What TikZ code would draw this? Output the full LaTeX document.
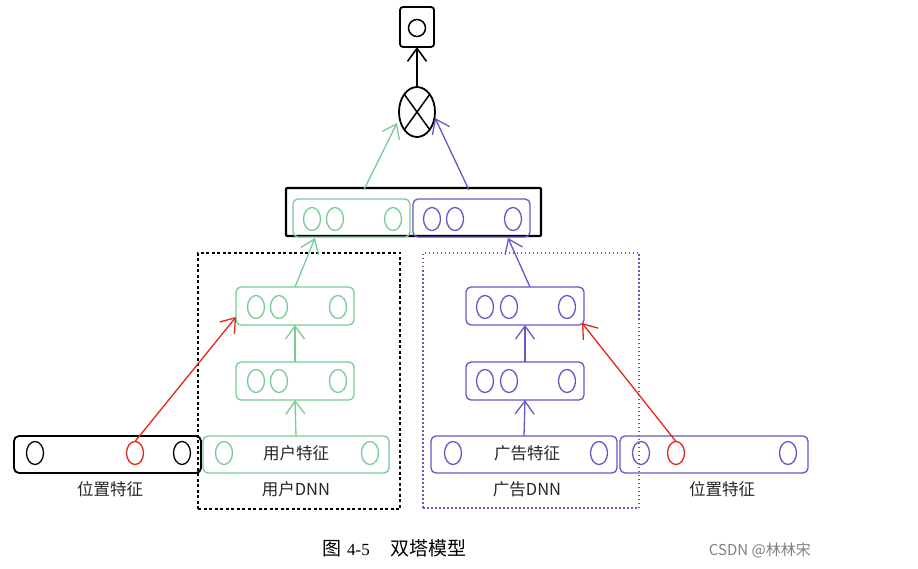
\documentclass[tikz,border=0pt]{standalone}
\usepackage{fontspec}
\setmainfont{Noto Sans CJK SC}
\newfontfamily\cjk{Noto Sans CJK SC}
\newfontfamily\serifl{Liberation Serif}
\usetikzlibrary{shapes.geometric,arrows.meta,calc}
\definecolor{tgreen}{RGB}{120,205,150}
\definecolor{tpurple}{RGB}{105,85,200}
\definecolor{tred}{RGB}{225,40,25}
\begin{document}
\begin{tikzpicture}[x=1pt,y=-1pt,
  box/.style={draw, rounded corners=5pt, inner sep=0pt, outer sep=0pt, line width=1.3pt},
  gbox/.style={box, tgreen},
  pbox/.style={box, tpurple},
  kbox/.style={box, black, line width=1.8pt},
  cell/.style={draw, ellipse, inner sep=0pt, outer sep=0pt, minimum width=17pt, minimum height=23pt, line width=1.3pt},
  gcell/.style={cell, tgreen},
  pcell/.style={cell, tpurple},
  kcell/.style={cell, black},
  rcell/.style={cell, tred},
  arr/.style={-{Straight Barb[length=13pt,width=19pt]}, line width=1.3pt},
  lbl/.style={font=\fontsize{16.5}{16.5}\selectfont, text=black!85, inner sep=0pt}
]
\fill[white] (0,0) rectangle (918,569);

% group frames
\node[draw, black, line width=1.6pt, dash pattern=on 3pt off 2.5pt, minimum width=202pt, minimum height=256pt, inner sep=0pt] (udnn) at (299,381) {};
\node[draw, tpurple, line width=1.3pt, dash pattern=on 1.5pt off 2.5pt, minimum width=216pt, minimum height=255pt, inner sep=0pt] (addnn) at (531,380.5) {};

% output
\node[kbox, rounded corners=3pt, minimum width=34pt, minimum height=40pt] (out) at (417,27) {};
\node[draw, circle, line width=1.5pt, minimum size=17pt, inner sep=0pt] (outc) at (417,28) {};
\node[draw, ellipse, line width=1.8pt, minimum width=36pt, minimum height=50pt, inner sep=0pt, outer sep=0pt] (cross) at (417,112) {};
\draw[line width=1.5pt] (cross.north west) -- (cross.south east);
\draw[line width=1.5pt] (cross.north east) -- (cross.south west);

% concat
\node[draw, black, line width=2.2pt, rounded corners=1pt, minimum width=255pt, minimum height=48pt, inner sep=0pt] (concat) at (413.5,212) {};
\node[gbox, minimum width=117pt, minimum height=38pt] (gC) at (351.5,218) {};
\node[pbox, minimum width=117pt, minimum height=38pt] (pC) at (471.5,218) {};
\node[gcell] (gc1) at (312,219) {};
\node[gcell] (gc2) at (335,219) {};
\node[gcell] (gc3) at (393,219) {};
\node[pcell] (pc1) at (432,219) {};
\node[pcell] (pc2) at (455,219) {};
\node[pcell] (pc3) at (513,219) {};

% user tower
\node[gbox, minimum width=118pt, minimum height=38pt] (g3) at (295,306) {};
\node[gcell] (g31) at (256,307) {};
\node[gcell] (g32) at (279,307) {};
\node[gcell] (g33) at (338,307) {};
\node[gbox, minimum width=118pt, minimum height=38pt] (g2) at (295,381) {};
\node[gcell] (g21) at (256,381) {};
\node[gcell] (g22) at (279,381) {};
\node[gcell] (g23) at (338,381) {};
\node[gbox, minimum width=186pt, minimum height=37pt] (gf) at (296,454.5) {};
\node[gcell] (gf1) at (224,453) {};
\node[gcell] (gf2) at (370,453) {};
\node[lbl] (gft) at (296,453) {用户特征};
\node[lbl] (udl) at (296,489) {用户DNN};

% ad tower
\node[pbox, minimum width=118pt, minimum height=38pt] (p3) at (525,306) {};
\node[pcell] (p31) at (485,307) {};
\node[pcell] (p32) at (509,307) {};
\node[pcell] (p33) at (567,307) {};
\node[pbox, minimum width=118pt, minimum height=38pt] (p2) at (525,381) {};
\node[pcell] (p21) at (485,381) {};
\node[pcell] (p22) at (509,381) {};
\node[pcell] (p23) at (567,381) {};
\node[pbox, minimum width=186pt, minimum height=37pt] (pf) at (524,454.5) {};
\node[pcell] (pf1) at (453,453) {};
\node[pcell] (pf2) at (599,453) {};
\node[lbl] (pft) at (527,453) {广告特征};
\node[lbl] (adl) at (527,489) {广告DNN};

% position features
\node[kbox, minimum width=187pt, minimum height=37pt] (lpos) at (107.5,454.5) {};
\node[kcell] (lp1) at (35,453) {};
\node[rcell] (lp2) at (135,453) {};
\node[kcell] (lp3) at (182,453) {};
\node[lbl] (lpl) at (110,489) {位置特征};

\node[pbox, minimum width=188pt, minimum height=37pt] (rpos) at (714,454.5) {};
\node[pcell] (rp1) at (641,453) {};
\node[rcell] (rp2) at (676,453) {};
\node[pcell] (rp3) at (788,453) {};
\node[lbl] (rpl) at (722,489) {位置特征};

% arrows
\draw[arr, black, line width=1.6pt] (cross.north) -- (out.south);
\draw[arr, tgreen] ($(concat.north west)+(79,3)$) -- ($(cross.center)+(-20,11)$);
\draw[arr, tpurple] ($(concat.north west)+(184,3)$) -- ($(cross.center)+(18,6)$);
\draw[arr, tgreen] (g3.north) -- ($(gC.south west)+(22,1)$);
\draw[arr, tpurple] ($(p3.north)+(5,0)$) -- ($(pC.south west)+(95,1)$);
\draw[arr, tgreen] (g2.north) -- (g3.south);
\draw[arr, tgreen] (gf.north) -- (g2.south);
\draw[arr, tpurple] (p2.north) -- (p3.south);
\draw[arr, tpurple] (pf.north) -- (p2.south);
\draw[arr, tred] (lp2.north) -- ($(g3.south west)+(0,-8)$);
\draw[arr, tred] (rp2.north) -- ($(p3.south east)+(-2,-2)$);

% caption
\node[anchor=west, inner sep=0pt, font=\fontsize{19}{19}\selectfont] (cap) at (322,548) {图\hspace{6pt}{\serifl\fontsize{17}{17}\selectfont 4-5}\hspace{21pt}双塔模型};
\node[anchor=east, inner sep=0pt, font=\fontsize{15}{15}\selectfont, text=black!50] (wm) at (811,550) {CSDN @林林宋};
\end{tikzpicture}
\end{document}
